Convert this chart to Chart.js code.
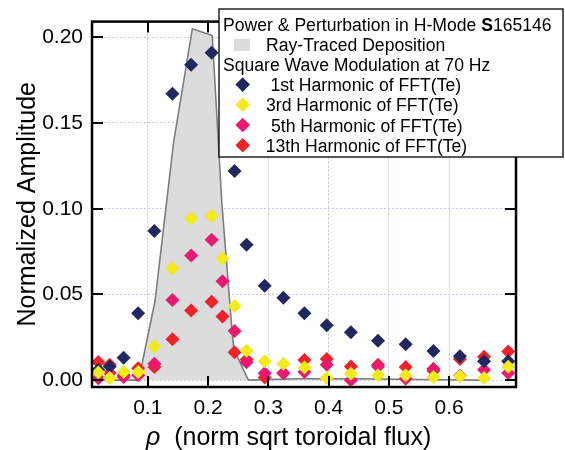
<!DOCTYPE html>
<html><head><meta charset="utf-8">
<script src="https://cdn.jsdelivr.net/npm/chart.js@4.4.0/dist/chart.umd.min.js"></script>
<style>html,body{margin:0;padding:0;background:#fff;} #wrap{width:565px;height:450px;position:relative;}</style>
</head><body><div id="wrap"><canvas id="c" width="565" height="450"></canvas></div>
<script>
// ---- data ----
const rhoH1 = [0.018, 0.037, 0.060, 0.084, 0.111, 0.141, 0.172, 0.206, 0.244, 0.264, 0.294, 0.325, 0.360, 0.397, 0.437, 0.482, 0.528, 0.574, 0.618, 0.658, 0.698];
const harm1 = [0.006, 0.008, 0.013, 0.039, 0.087, 0.167, 0.184, 0.191, 0.122, 0.079, 0.055, 0.048, 0.039, 0.032, 0.028, 0.023, 0.021, 0.017, 0.014, 0.011, 0.011];
const rhoH = [0.018, 0.037, 0.060, 0.084, 0.111, 0.141, 0.172, 0.206, 0.224, 0.244, 0.264, 0.294, 0.325, 0.360, 0.397, 0.437, 0.482, 0.528, 0.574, 0.618, 0.658, 0.698];
const harm3 = [0.0045, 0.0013, 0.0047, 0.0047, 0.0196, 0.0651, 0.0943, 0.0958, 0.0710, 0.0433, 0.0171, 0.0110, 0.0095, 0.0074, 0.0012, 0.0038, 0.0029, 0.0029, 0.0019, 0.0023, 0.0013, 0.0078];
const harm5 = [0.0011, 0.0042, 0.0019, 0.0029, 0.0095, 0.0467, 0.0727, 0.0819, 0.0577, 0.0286, 0.0105, 0.0040, 0.0042, 0.0047, 0.0090, 0.0000, 0.0080, 0.0008, 0.0067, 0.0025, 0.0061, 0.0042];
const harm13 = [0.0106, 0.0090, 0.0030, 0.0070, 0.0076, 0.0238, 0.0406, 0.0457, 0.0371, 0.0162, 0.0120, 0.0016, 0.0040, 0.0118, 0.0124, 0.0080, 0.0090, 0.0076, 0.0055, 0.0124, 0.0137, 0.0167];
const depRho = [0.010, 0.085, 0.112, 0.143, 0.174, 0.207, 0.223, 0.240, 0.243, 0.267, 0.350, 0.450, 0.550, 0.657];
const depVal = [0.000, 0.000, 0.046, 0.139, 0.205, 0.201, 0.103, 0.028, 0.018, 0.000, 0.0008, 0.0008, 0.0004, 0.000];
const xTickValues = [0.1, 0.2, 0.3, 0.4, 0.5, 0.6];
const xTickLabels = ['0.1', '0.2', '0.3', '0.4', '0.5', '0.6'];
const yTickValues = [0.00, 0.05, 0.10, 0.15, 0.20];
const yTickLabels = ['0.00', '0.05', '0.10', '0.15', '0.20'];
const legendHeader = ['Power & Perturbation in H-Mode ', 'S', '165146'];
const depLabel = 'Ray-Traced Deposition';
const modLabel = 'Square Wave Modulation at 70 Hz';
const seriesLabels = ['1st Harmonic of FFT(Te)', '3rd Harmonic of FFT(Te)', '5th Harmonic of FFT(Te)', '13th Harmonic of FFT(Te)'];
const xTitle = ['\u03C1', '  (norm sqrt toroidal flux)'];
const yTitle = 'Normalized Amplitude';

const FONT = "'Liberation Sans', Arial, sans-serif";
const COLORS = ['#21275f', '#f2ea1a', '#ea1870', '#ee2228'];
const pts = (xs, ys) => xs.map((x, i) => ({x: x, y: ys[i]}));

const sc = (label, xs, ys, color, order) => ({
  type: 'scatter', label, data: pts(xs, ys), order,
  pointStyle: 'rectRot', pointRadius: 7, pointHoverRadius: 7,
  backgroundColor: color, borderColor: color, borderWidth: 0
});

const decor = {
  id: 'decor',
  afterDatasetsDraw(chart) {
    const ctx = chart.ctx, a = chart.chartArea;
    const xs = chart.scales.x, ys = chart.scales.y;
    ctx.save();
    ctx.strokeStyle = '#000';
    ctx.lineWidth = 2;
    ctx.lineCap = 'butt';
    const TL = 11;
    ctx.beginPath();
    xTickValues.forEach(v => {
      const px = Math.round(xs.getPixelForValue(v));
      ctx.moveTo(px, a.bottom); ctx.lineTo(px, a.bottom - TL);
      ctx.moveTo(px, a.top); ctx.lineTo(px, a.top + TL);
    });
    yTickValues.forEach(v => {
      const py = Math.round(ys.getPixelForValue(v));
      ctx.moveTo(a.left, py); ctx.lineTo(a.left + TL, py);
      ctx.moveTo(a.right, py); ctx.lineTo(a.right - TL, py);
    });
    ctx.stroke();
    ctx.lineWidth = 2.5;
    ctx.strokeRect(a.left, a.top, a.right - a.left, a.bottom - a.top);
    ctx.restore();
  },
  afterDraw(chart) {
    const ctx = chart.ctx;
    ctx.save();
    // x title
    ctx.fillStyle = '#000';
    ctx.textBaseline = 'alphabetic';
    ctx.textAlign = 'left';
    let x = 146;
    ctx.font = 'italic 25px ' + FONT;
    ctx.fillText(xTitle[0], x, 445);
    x += ctx.measureText(xTitle[0]).width;
    ctx.font = '25px ' + FONT;
    ctx.fillText(xTitle[1], x, 445);

    // legend box
    const bx = 219, by = 9, bw = 344, bh = 148;
    ctx.fillStyle = '#fff';
    ctx.fillRect(bx, by, bw, bh);
    ctx.strokeStyle = '#000';
    ctx.lineWidth = 1.3;
    ctx.strokeRect(bx, by, bw, bh);
    const fs = 17.6;
    const base0 = 30.5, step = 20.2;
    ctx.fillStyle = '#000';
    ctx.font = fs + 'px ' + FONT;
    x = 223;
    ctx.fillText(legendHeader[0], x, base0);
    x += ctx.measureText(legendHeader[0]).width;
    ctx.font = 'bold ' + fs + 'px ' + FONT;
    ctx.fillText(legendHeader[1], x, base0);
    x += ctx.measureText(legendHeader[1]).width;
    ctx.font = fs + 'px ' + FONT;
    ctx.fillText(legendHeader[2], x, base0);
    // deposition swatch
    ctx.fillStyle = '#dcdcdc';
    ctx.fillRect(234, 39, 16, 12);
    ctx.fillStyle = '#000';
    ctx.fillText(depLabel, 266, base0 + step);
    ctx.fillText(modLabel, 223, base0 + 2 * step);
    const textX = [270.5, 266, 271, 265.8];
    seriesLabels.forEach((lab, i) => {
      const bl = base0 + (3 + i) * step;
      const cy = bl - 6.5;
      const cx = 242.7, r = 7.3;
      ctx.fillStyle = COLORS[i];
      ctx.beginPath();
      ctx.moveTo(cx, cy - r); ctx.lineTo(cx + r, cy); ctx.lineTo(cx, cy + r); ctx.lineTo(cx - r, cy);
      ctx.closePath(); ctx.fill();
      ctx.fillStyle = '#000';
      ctx.fillText(lab, textX[i], bl);
    });
    ctx.restore();
  }
};

new Chart(document.getElementById('c'), {
  type: 'scatter',
  data: {
    datasets: [
      sc(seriesLabels[0], rhoH1, harm1, COLORS[0], 2),
      sc(seriesLabels[1], rhoH, harm3, COLORS[1], 1),
      sc(seriesLabels[2], rhoH, harm5, COLORS[2], 3),
      sc(seriesLabels[3], rhoH, harm13, COLORS[3], 4),
      {
        type: 'line', label: depLabel, data: pts(depRho, depVal), order: 10,
        showLine: true, fill: 'origin', tension: 0,
        borderColor: '#7d7d7d', borderWidth: 1.6, backgroundColor: '#dcdcdc',
        pointRadius: 0, pointHoverRadius: 0
      }
    ]
  },
  options: {
    responsive: false,
    animation: false,
    events: [],
    layout: {padding: {top: 14, right: 49, left: 0, bottom: 0}},
    plugins: {legend: {display: false}, tooltip: {enabled: false}, title: {display: false}},
    scales: {
      x: {
        type: 'linear', min: 0.0075, max: 0.711,
        afterFit: s => { s.height = 63; },
        afterBuildTicks: s => { s.ticks = xTickValues.map(v => ({value: v})); },
        grid: {color: '#c6c6e4', lineWidth: 1, drawTicks: false},
        border: {display: false, dash: [2, 2]},
        ticks: {
          padding: 9, color: '#000', font: {family: FONT, size: 21}, maxRotation: 0,
          callback: v => { const i = xTickValues.findIndex(t => Math.abs(t - v) < 1e-9); return i >= 0 ? xTickLabels[i] : ''; }
        },
        title: {display: false}
      },
      y: {
        type: 'linear', min: -0.004, max: 0.20914,
        afterFit: s => { s.width = 92; },
        afterBuildTicks: s => { s.ticks = yTickValues.map(v => ({value: v})); },
        grid: {color: '#c6c6e4', lineWidth: 1, drawTicks: false},
        border: {display: false, dash: [2, 2]},
        ticks: {
          padding: 9, color: '#000', font: {family: FONT, size: 21},
          callback: v => { const i = yTickValues.findIndex(t => Math.abs(t - v) < 1e-9); return i >= 0 ? yTickLabels[i] : ''; }
        },
        title: {display: true, text: yTitle, color: '#000', font: {family: FONT, size: 25}, padding: {top: 13, bottom: 0}}
      }
    }
  },
  plugins: [decor]
});
</script>
</body></html>
